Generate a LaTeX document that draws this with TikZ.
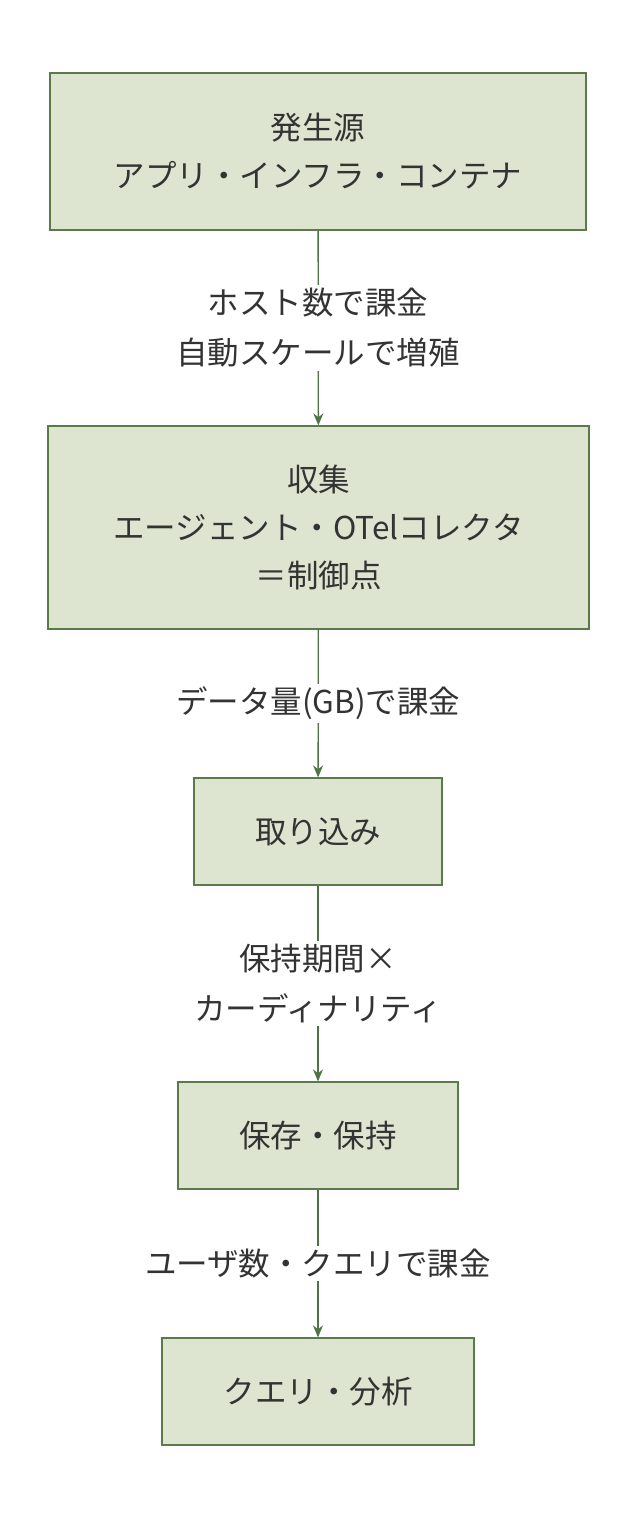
\documentclass[tikz,border=0pt]{standalone}
\usepackage{fontspec}
\newfontfamily\cjk{Noto Sans CJK JP}
\usetikzlibrary{arrows.meta}
\definecolor{boxfill}{HTML}{DDE5D0}
\definecolor{boxline}{HTML}{5A7A4A}
\definecolor{arr}{HTML}{4E7445}
\definecolor{txt}{HTML}{333333}
\begin{document}
\begin{tikzpicture}[x=1pt,y=-1pt,
  box/.style={draw=boxline,line width=1.3pt,fill=boxfill,inner sep=0pt,align=center,text=txt,font=\cjk\fontsize{31.5}{48}\selectfont},
  lab/.style={fill=white,align=center,text=txt,font=\cjk\fontsize{31.5}{50}\selectfont,inner sep=3pt},
  conn/.style={draw=arr,line width=1.3pt,-{Stealth[length=12pt,width=10pt]}}]
\useasboundingbox (0,0) rectangle (636,1524);
\node[box,minimum width=536pt,minimum height=157pt] (a) at (318,151.5) {発生源\\アプリ・インフラ・コンテナ};
\node[box,minimum width=541pt,minimum height=203pt] (b) at (318.5,527.5) {収集\\エージェント・OTelコレクタ\\＝制御点};
\node[box,minimum width=248pt,minimum height=107pt] (c) at (318,831.5) {取り込み};
\node[box,minimum width=280pt,minimum height=107pt] (d) at (318,1135.5) {保存・保持};
\node[box,minimum width=312pt,minimum height=107pt] (e) at (318,1391.5) {クエリ・分析};
\draw[conn] (a) -- node[lab]{ホスト数で課金\\自動スケールで増殖} (b);
\draw[conn] (b) -- node[lab]{データ量(GB)で課金} (c);
\draw[conn] (c) -- node[lab]{保持期間×\\カーディナリティ} (d);
\draw[conn] (d) -- node[lab]{ユーザ数・クエリで課金} (e);
\end{tikzpicture}
\end{document}
